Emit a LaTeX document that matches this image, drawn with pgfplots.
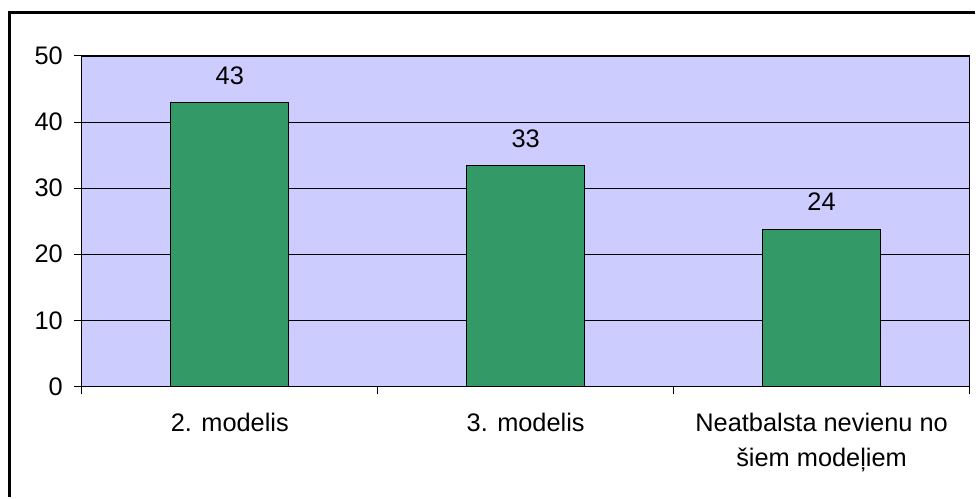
\documentclass[border=0pt]{standalone}
\usepackage{pgfplots}
\pgfplotsset{compat=1.18}
\usepackage{fontspec}
\setmainfont{Liberation Sans}
\definecolor{bgc}{HTML}{CCCCFF}
\definecolor{barc}{HTML}{339966}
\begin{document}
\begin{tikzpicture}[x=0.5pt,y=0.5pt]
\fill[white] (0,0) rectangle (976,498);
\draw[line width=1.5pt] (10,0) -- (10,485) -- (976,485);
\begin{axis}[
  at={(41pt,55.5pt)}, anchor=south west,
  scale only axis, width=444.5pt, height=165.5pt,
  xmin=-0.5, xmax=2.5, ymin=0, ymax=50,
  ytick={0,10,20,30,40,50},
  ymajorgrids, grid style={black, line width=0.5pt},
  axis background/.style={fill=bgc},
  axis line style={black, line width=0.6pt},
  tick style={black, line width=0.5pt},
  tick align=outside, major tick length=4pt,
  xtick pos=bottom, ytick pos=left,
  xtick={0,1,2},
  xticklabels={{2. modelis},{3. modelis},{Neatbalsta nevienu no\\šiem modeļiem}},
  major x tick style={draw=none},
  minor xtick={-0.5,0.5,1.5,2.5},
  minor tick length=4pt,
  minor x tick style={black, line width=0.5pt},
  xticklabel style={align=center, font=\fontsize{12.7}{17.5}\selectfont, yshift=-6pt},
  yticklabel style={font=\fontsize{12.7}{14}\selectfont, xshift=-2pt},
  /pgf/number format/assume math mode=true,
  ybar, bar width=59pt,
  nodes near coords={\pgfmathprintnumber[fixed,precision=0]{\pgfplotspointmeta}},
  every node near coord/.append style={font=\fontsize{12.7}{14}\selectfont, yshift=5.5pt},
  clip=false,
]
\addplot[fill=barc, draw=black, line width=0.5pt] coordinates {(0,42.9) (1,33.4) (2,23.8)};
\end{axis}
\end{tikzpicture}
\end{document}
